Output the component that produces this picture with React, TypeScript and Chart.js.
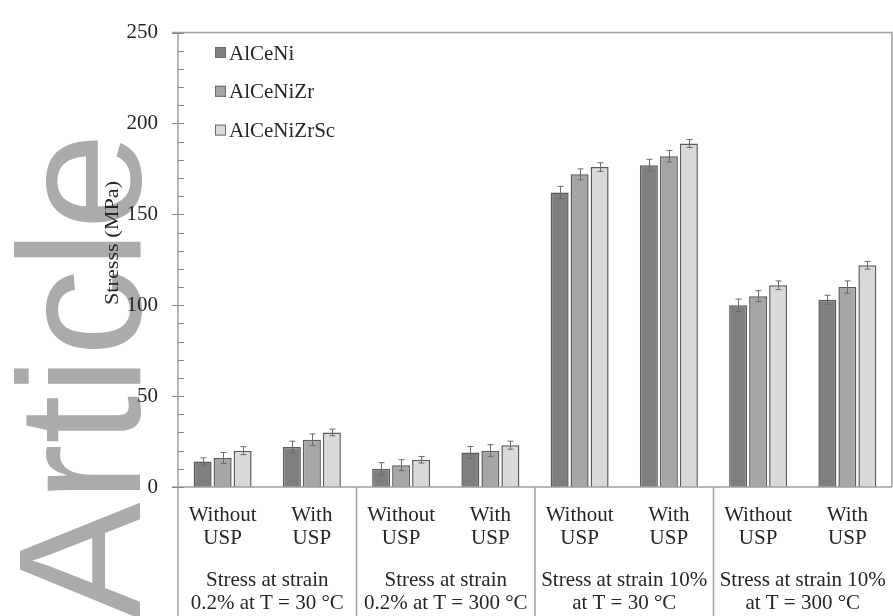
import { useEffect, useRef } from 'react';
import Chart from 'chart.js/auto';

const categories: string[][] = [
  ['Without', 'USP'], ['With', 'USP'],
  ['Without', 'USP'], ['With', 'USP'],
  ['Without', 'USP'], ['With', 'USP'],
  ['Without', 'USP'], ['With', 'USP'],
];
const groupLabels: string[][] = [
  ['Stress at strain', '0.2% at T = 30 °C'],
  ['Stress at strain', '0.2% at T = 300 °C'],
  ['Stress at strain 10%', 'at T = 30 °C'],
  ['Stress at strain 10%', 'at T = 300 °C'],
];
const seriesNames = ['AlCeNi', 'AlCeNiZr', 'AlCeNiZrSc'];
const alCeNi = [14, 22, 10, 19, 162, 177, 100, 103];
const alCeNiZr = [16, 26, 12, 20, 172, 182, 105, 110];
const alCeNiZrSc = [20, 30, 15, 23, 176, 189, 111, 122];
const errAlCeNi = [2, 3.2, 3.4, 3.3, 3.4, 3.3, 3.4, 2.5];
const errAlCeNiZr = [3, 3.2, 3, 3.3, 3, 3.2, 3, 3.4];
const errAlCeNiZrSc = [2.2, 1.8, 1.8, 2.2, 2.4, 2.2, 2.4, 2.1];
const yTicks = [0, 50, 100, 150, 200, 250];
const yMinorStep = 10;
const yTitle = 'Stresss (MPa)';
const watermark = 'Article';

const fills = ['#7f7f7f', '#a6a6a6', '#d9d9d9'];
const SERIF = '"Liberation Serif", "Times New Roman", serif';
const TEXT = '#262626';
const AXIS = '#a0a0a0';

export default function App() {
  const ref = useRef<HTMLCanvasElement | null>(null);
  useEffect(() => {
    const canvas = ref.current;
    if (!canvas) return;
    const values = [alCeNi, alCeNiZr, alCeNiZrSc];
    const errs = [errAlCeNi, errAlCeNiZr, errAlCeNiZrSc];

    const decor = {
      id: 'decor',
      beforeDraw(chart: any) {
        const ctx = chart.ctx;
        ctx.save();
        ctx.fillStyle = '#ffffff';
        ctx.fillRect(0, 0, chart.width, chart.height);
        // watermark
        ctx.translate(140, 619);
        ctx.rotate(-Math.PI / 2);
        ctx.fillStyle = '#ababab';
        ctx.font = '175px "Liberation Sans", Arial, sans-serif';
        ctx.textBaseline = 'alphabetic';
        ctx.textAlign = 'left';
        ctx.fillText(watermark, 0, 0);
        ctx.restore();
      },
      afterDatasetsDraw(chart: any) {
        const ctx = chart.ctx;
        const ca = chart.chartArea;
        const xs = chart.scales.x;
        const ys = chart.scales.y;
        ctx.save();
        // error bars
        ctx.strokeStyle = '#6a6a6a';
        ctx.lineWidth = 1;
        values.forEach((arr, di) => {
          const meta = chart.getDatasetMeta(di);
          meta.data.forEach((el: any, i: number) => {
            const x = Math.round(el.x) + 0.5;
            const yt = ys.getPixelForValue(arr[i] + errs[di][i]);
            const yb = ys.getPixelForValue(arr[i] - errs[di][i]);
            ctx.beginPath();
            ctx.moveTo(x, yt); ctx.lineTo(x, yb);
            ctx.moveTo(x - 3, yt); ctx.lineTo(x + 3, yt);
            ctx.moveTo(x - 3, yb); ctx.lineTo(x + 3, yb);
            ctx.stroke();
          });
        });
        // frame and axes
        ctx.strokeStyle = AXIS;
        ctx.lineWidth = 1.5;
        ctx.beginPath();
        ctx.moveTo(ca.left, ca.top); ctx.lineTo(ca.left, chart.height);
        ctx.moveTo(ca.left - 6, ca.top); ctx.lineTo(ca.right, ca.top); ctx.lineTo(ca.right, ca.bottom);
        ctx.moveTo(ca.left - 6, ca.bottom); ctx.lineTo(ca.right, ca.bottom);
        ctx.stroke();
        // y ticks
        ctx.lineWidth = 1;
        ctx.strokeStyle = '#8a8a8a';
        const yMin = ys.min, yMax = ys.max;
        for (let v = yMin; v <= yMax + 1e-6; v += yMinorStep) {
          const y = Math.round(ys.getPixelForValue(v)) + 0.5;
          const major = yTicks.includes(v);
          ctx.beginPath();
          ctx.moveTo(major ? ca.left - 6 : ca.left, y);
          ctx.lineTo(ca.left + 6, y);
          ctx.stroke();
        }
        // group dividers
        ctx.strokeStyle = AXIS;
        ctx.lineWidth = 1.5;
        const n = categories.length;
        for (let g = 1; g < groupLabels.length; g++) {
          const i = g * 2;
          const x = (xs.getPixelForValue(i - 1) + xs.getPixelForValue(i)) / 2;
          ctx.beginPath();
          ctx.moveTo(x, ca.bottom); ctx.lineTo(x, chart.height);
          ctx.stroke();
        }
        // category labels
        ctx.fillStyle = TEXT;
        ctx.font = `21px ${SERIF}`;
        ctx.textAlign = 'center';
        ctx.textBaseline = 'alphabetic';
        for (let i = 0; i < n; i++) {
          const x = xs.getPixelForValue(i);
          categories[i].forEach((line, li) => ctx.fillText(line, x, 521 + li * 23));
        }
        groupLabels.forEach((lines, g) => {
          const x = (xs.getPixelForValue(g * 2) + xs.getPixelForValue(g * 2 + 1)) / 2;
          lines.forEach((line, li) => ctx.fillText(line, x, 586 + li * 23));
        });
        // legend
        ctx.textAlign = 'left';
        ctx.textBaseline = 'middle';
        seriesNames.forEach((name, i) => {
          const cy = 53 + i * 38.8;
          ctx.fillStyle = fills[i];
          ctx.fillRect(215, cy - 6, 11, 11);
          ctx.strokeStyle = '#6a6a6a';
          ctx.lineWidth = 1;
          ctx.strokeRect(215.5, cy - 5.5, 10, 10);
          ctx.fillStyle = TEXT;
          ctx.fillText(name, 229, cy + 1);
        });
        // y title
        ctx.save();
        ctx.translate(113, 243);
        ctx.rotate(-Math.PI / 2);
        ctx.scale(1.17, 1);
        ctx.font = `19px ${SERIF}`;
        ctx.textAlign = 'center';
        ctx.textBaseline = 'middle';
        ctx.fillStyle = TEXT;
        ctx.fillText(yTitle, 0, 0);
        ctx.restore();
        ctx.restore();
      },
    };

    const chart = new Chart(canvas, {
      type: 'bar',
      data: {
        labels: categories.map((c) => c.join(' ')),
        datasets: values.map((arr, i) => ({
          label: seriesNames[i],
          data: arr,
          backgroundColor: fills[i],
          borderColor: '#5a5a5a',
          borderWidth: 1.5,
          barPercentage: 0.9,
          categoryPercentage: 0.672,
        })),
      },
      options: {
        animation: false,
        responsive: false,
        maintainAspectRatio: false,
        devicePixelRatio: 1,
        layout: { padding: { top: 25, right: 1, left: 0, bottom: 0 } },
        plugins: { legend: { display: false }, tooltip: { enabled: false }, title: { display: false } },
        scales: {
          x: {
            grid: { display: false, drawTicks: false },
            border: { display: false },
            ticks: { display: false },
            afterFit: (s: any) => { s.height = 129; },
          },
          y: {
            min: 0,
            max: 250,
            afterBuildTicks: (s: any) => { s.ticks = yTicks.map((v) => ({ value: v })); },
            ticks: { font: { family: SERIF, size: 21 }, color: TEXT, padding: 20 },
            grid: { display: false, drawTicks: false },
            border: { display: false },
            afterFit: (s: any) => { s.width = 178; },
          },
        },
      },
      plugins: [decor],
    } as any);
    return () => chart.destroy();
  }, []);

  return (
    <div style={{ position: 'absolute', left: 0, top: 0, width: 893, height: 616 }}>
      <canvas ref={ref} width={893} height={616} style={{ width: 893, height: 616, display: 'block' }} />
    </div>
  );
}
